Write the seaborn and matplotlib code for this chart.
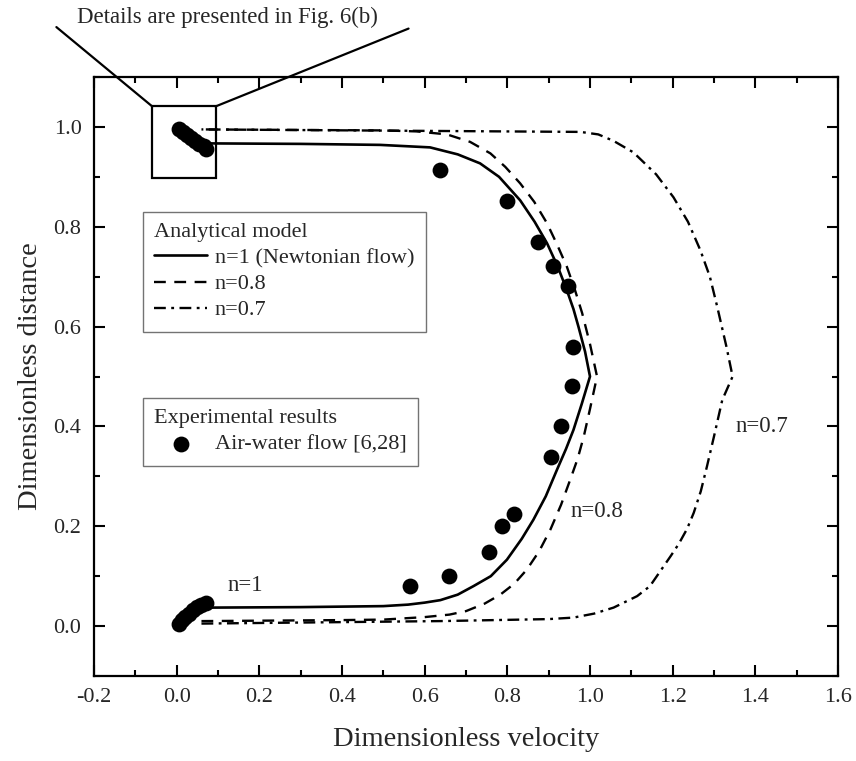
import numpy as np
import pandas as pd
import matplotlib
matplotlib.use("Agg")
import matplotlib.pyplot as plt
from matplotlib.patches import Rectangle
import seaborn as sns

# ------------------------------------------------------------
# Dados (velocidade adimensional x distância)
# ------------------------------------------------------------
# n = 1 (Newtoniano)
n1_vel = [0.08, 0.30, 0.50, 0.56, 0.60, 0.638, 0.68, 0.718, 0.76, 0.799, 0.835, 0.863, 0.893,
          0.92, 0.942, 0.96, 0.98, 1.00,
          0.988, 0.972, 0.96, 0.944, 0.922, 0.896, 0.866, 0.831, 0.78, 0.734, 0.68,
          0.613, 0.492, 0.30, 0.075]
n1_dist = [0.037, 0.038, 0.040, 0.043, 0.047, 0.052, 0.063, 0.080, 0.100, 0.133, 0.175, 0.213, 0.260,
           0.313, 0.355, 0.393, 0.445, 0.50,
           0.550, 0.600, 0.635, 0.673, 0.720, 0.767, 0.810, 0.853, 0.900, 0.927, 0.945,
           0.959, 0.964, 0.966, 0.967]

# n = 0.8
n08_vel = [0.06, 0.40, 0.50, 0.60, 0.66, 0.70, 0.745, 0.783, 0.817, 0.847, 0.877, 0.904, 0.93,
           0.952, 0.97, 0.985, 1.00, 1.017,
           1.00, 0.981, 0.963, 0.944, 0.92, 0.896, 0.865, 0.831, 0.795, 0.759, 0.71,
           0.654, 0.58, 0.50, 0.06]
n08_dist = [0.010, 0.012, 0.013, 0.018, 0.023, 0.030, 0.045, 0.063, 0.085, 0.113, 0.150, 0.193, 0.243,
            0.293, 0.335, 0.380, 0.435, 0.50,
            0.565, 0.627, 0.675, 0.720, 0.765, 0.807, 0.850, 0.887, 0.920, 0.947, 0.970,
            0.985, 0.991, 0.993, 0.995]

# n = 0.7
n07_vel = [0.06, 0.638, 0.90, 0.96, 1.01, 1.057, 1.114, 1.145, 1.17, 1.195, 1.215, 1.235, 1.251,
           1.268, 1.283, 1.30, 1.32, 1.345,
           1.33, 1.308, 1.29, 1.267, 1.237, 1.202, 1.16, 1.105, 1.057, 1.02, 0.977, 0.06]
n07_dist = [0.005, 0.010, 0.014, 0.017, 0.025, 0.037, 0.060, 0.080, 0.110, 0.140, 0.165, 0.195, 0.227,
            0.270, 0.320, 0.380, 0.453, 0.50,
            0.560, 0.639, 0.700, 0.753, 0.810, 0.859, 0.905, 0.949, 0.972, 0.985, 0.990, 0.995]

# Resultados experimentais (escoamento ar-água)
exp_vel = [0.005, 0.012, 0.02, 0.03, 0.04, 0.05, 0.06, 0.07,
           0.565, 0.66, 0.755, 0.787, 0.817, 0.906, 0.93, 0.956, 0.96,
           0.946, 0.91, 0.874, 0.80, 0.636,
           0.005, 0.015, 0.025, 0.035, 0.045, 0.055, 0.065, 0.072]
exp_dist = [0.005, 0.012, 0.018, 0.025, 0.032, 0.038, 0.042, 0.046,
            0.080, 0.100, 0.148, 0.200, 0.225, 0.338, 0.400, 0.480, 0.560,
            0.681, 0.721, 0.770, 0.852, 0.913,
            0.995, 0.990, 0.983, 0.977, 0.972, 0.966, 0.961, 0.955]

x_ticks = [-0.2, 0.0, 0.2, 0.4, 0.6, 0.8, 1.0, 1.2, 1.4, 1.6]
y_ticks = [0.0, 0.2, 0.4, 0.6, 0.8, 1.0]

# ------------------------------------------------------------
# Estilo
# ------------------------------------------------------------
sns.set_theme(style="ticks")
plt.rcParams["font.family"] = ["Liberation Serif", "DejaVu Serif"]
plt.rcParams["axes.unicode_minus"] = False

fig = plt.figure(figsize=(8.56, 7.61), dpi=100)
ax = fig.add_axes([94 / 856, 1 - 676 / 761, 744 / 856, 599 / 761])

lw = 1.7
sns.lineplot(x=n1_vel, y=n1_dist, sort=False, estimator=None, ax=ax,
             color="black", lw=lw + 0.2, label="n=1 (Newtonian flow)")
sns.lineplot(x=n08_vel, y=n08_dist, sort=False, estimator=None, ax=ax,
             color="black", lw=lw, ls=(0, (5.0, 3.6)), label="n=0.8")
sns.lineplot(x=n07_vel, y=n07_dist, sort=False, estimator=None, ax=ax,
             color="black", lw=lw, ls=(0, (5.0, 2.3, 1.2, 2.3)), label="n=0.7")
sns.scatterplot(x=exp_vel, y=exp_dist, ax=ax, color="black", s=130,
                edgecolor="black", linewidth=0, label="Air-water flow [6,28]", zorder=5)

ax.set_xlim(-0.2, 1.6)
ax.set_ylim(-0.1, 1.1)
ax.set_xticks(x_ticks)
ax.set_yticks(y_ticks)
ax.set_xticklabels([f"{v:.1f}" for v in x_ticks])
ax.set_yticklabels([f"{v:.1f}" for v in y_ticks])
ax.xaxis.set_minor_locator(matplotlib.ticker.MultipleLocator(0.1))
ax.yaxis.set_minor_locator(matplotlib.ticker.MultipleLocator(0.1))
ax.tick_params(which="both", direction="in", top=True, right=True, width=1.5, color="black")
ax.tick_params(which="major", length=8, labelsize=16, pad=9)
ax.tick_params(which="minor", length=4.5)
for sp in ax.spines.values():
    sp.set_linewidth(1.6)
    sp.set_color("black")

ax.set_xlabel("Dimensionless velocity", fontsize=20.5)
ax.set_ylabel("Dimensionless distance", fontsize=20.5)
ax.xaxis.set_label_coords(0.5, -0.085)
ax.yaxis.set_label_coords(-0.068, 0.5)

# ------------------------------------------------------------
# Legendas (duas caixas)
# ------------------------------------------------------------
handles, labels = ax.get_legend_handles_labels()
leg_kw = dict(fontsize=16, title_fontsize=16, alignment="left", frameon=True,
              fancybox=False, framealpha=1, edgecolor="0.45", loc="upper left",
              borderaxespad=0, handlelength=2.4, handletextpad=0.35,
              labelspacing=0.25, borderpad=0.5)
leg1 = ax.legend(handles[:3], labels[:3], title="Analytical model",
                 bbox_to_anchor=(0.0655, 0.7746), **leg_kw)
leg1.get_frame().set_linewidth(1.0)
ax.add_artist(leg1)
leg2 = ax.legend(handles[3:], labels[3:], title="Experimental results",
                 bbox_to_anchor=(0.0655, 0.4636), **leg_kw)
leg2.get_frame().set_linewidth(1.0)

# ------------------------------------------------------------
# Rótulos das curvas e caixa de detalhe
# ------------------------------------------------------------
ax.text(0.124, 0.081, "n=1", fontsize=16.5, va="center", ha="left")
ax.text(0.952, 0.23, "n=0.8", fontsize=16.5, va="center", ha="left")
ax.text(1.352, 0.40, "n=0.7", fontsize=16.5, va="center", ha="left")

ax.add_patch(Rectangle((-0.059, 0.897), 0.153, 0.144, fill=False,
                       edgecolor="black", lw=1.6, zorder=6))
ax.plot([-0.291, -0.059], [1.200, 1.041], color="black", lw=1.6, clip_on=False)
ax.plot([0.094, 0.561], [1.041, 1.197], color="black", lw=1.6, clip_on=False)
fig.text(76.7 / 856, 1 - 23 / 761, "Details are presented in Fig. 6(b)",
         fontsize=16.5, ha="left", va="baseline")

fig.savefig("out.png", dpi=100, facecolor="white")
